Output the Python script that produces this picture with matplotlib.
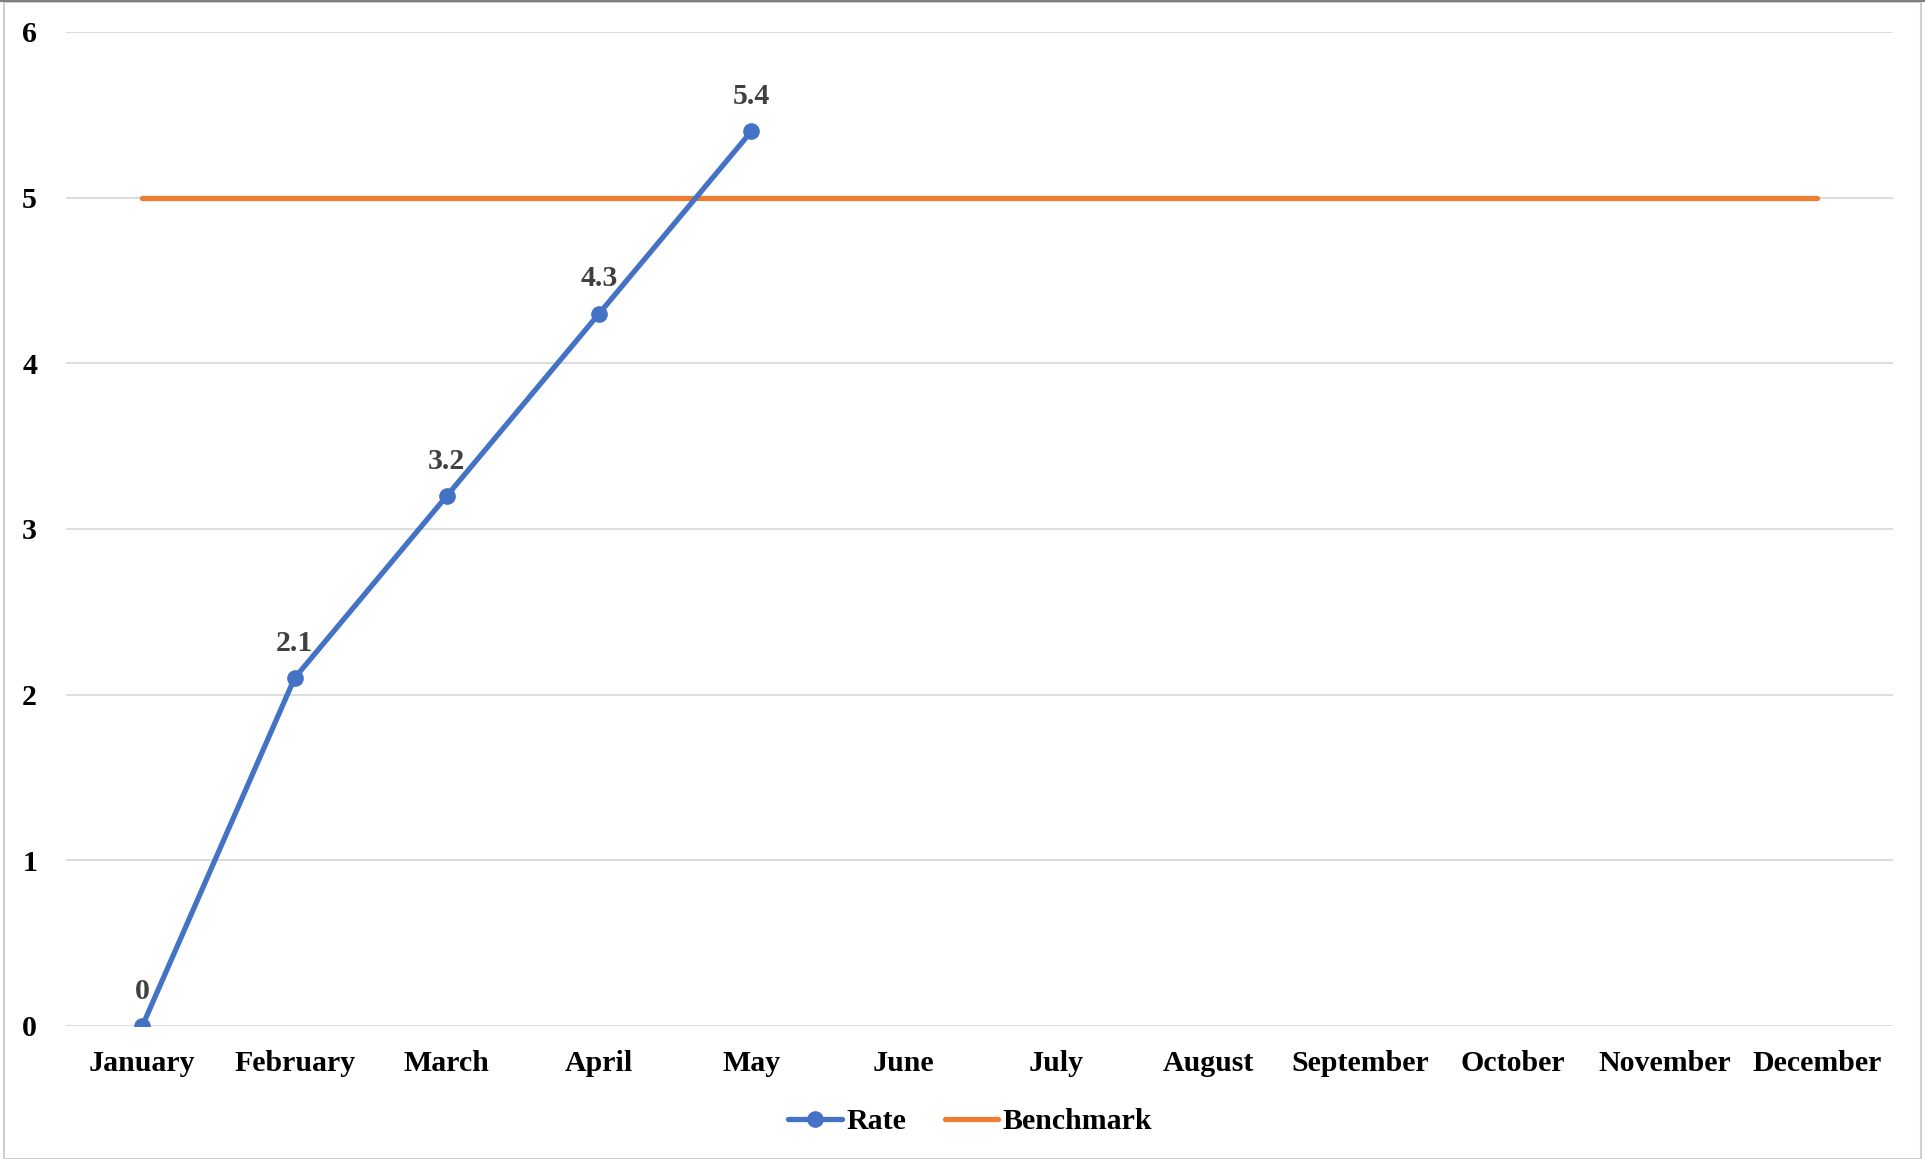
import matplotlib
matplotlib.use('Agg')
import matplotlib.pyplot as plt
from matplotlib.patches import Rectangle

months = ['January', 'February', 'March', 'April', 'May', 'June', 'July',
          'August', 'September', 'October', 'November', 'December']
rate = [0, 2.1, 3.2, 4.3, 5.4]
benchmark = [5] * 12
yticks = [0, 1, 2, 3, 4, 5, 6]

plt.rcParams['font.family'] = ['Liberation Serif', 'DejaVu Serif']
plt.rcParams['font.weight'] = 'bold'
fs = 21.5

fig = plt.figure(figsize=(19.25, 11.59), dpi=100)
ax = fig.add_axes([0.0344, 0.1148, 0.9491, 0.8576])

x_rate = list(range(len(rate)))
x_bench = list(range(len(benchmark)))

ax.plot(x_rate, rate, color='#4472C4', lw=3.8, marker='o', ms=11,
        solid_capstyle='round', label='Rate', zorder=3)
ax.plot(x_bench, benchmark, color='#ED7D31', lw=3.8,
        solid_capstyle='round', label='Benchmark', zorder=2)

for xi, v in zip(x_rate, rate):
    txt = f'{v:g}'
    ax.annotate(txt, (xi, v), xytext=(0, 25), textcoords='offset points',
                ha='center', va='center', fontsize=fs, fontweight='bold',
                color='#404040')

ax.set_xlim(-0.5, len(months) - 0.5)
ax.set_ylim(0, 6)
ax.set_xticks(x_bench)
ax.set_xticklabels(months, fontsize=fs, fontweight='bold')
ax.set_yticks(yticks)
ax.set_yticklabels([str(t) for t in yticks], fontsize=fs, fontweight='bold')
ax.tick_params(axis='both', length=0)
ax.tick_params(axis='x', pad=17)
ax.tick_params(axis='y', pad=21)

ax.grid(axis='y', color='#D9D9D9', lw=1.3)
ax.set_axisbelow(True)
for s in ax.spines.values():
    s.set_visible(False)

leg = fig.legend(loc='center', bbox_to_anchor=(0.504, 0.032), ncol=2,
                 frameon=False, fontsize=fs, handlelength=1.8,
                 handletextpad=0.15, columnspacing=1.3)

fig.patches.append(Rectangle((0.002, 0.0), 0.996, 0.998, transform=fig.transFigure,
                             fill=False, edgecolor='#D0D0D0', lw=1.5))
fig.add_artist(plt.Line2D([0, 1], [0.999, 0.999], transform=fig.transFigure,
                          color='#808080', lw=1.5))

fig.savefig('out.png', dpi=100, facecolor='white')
